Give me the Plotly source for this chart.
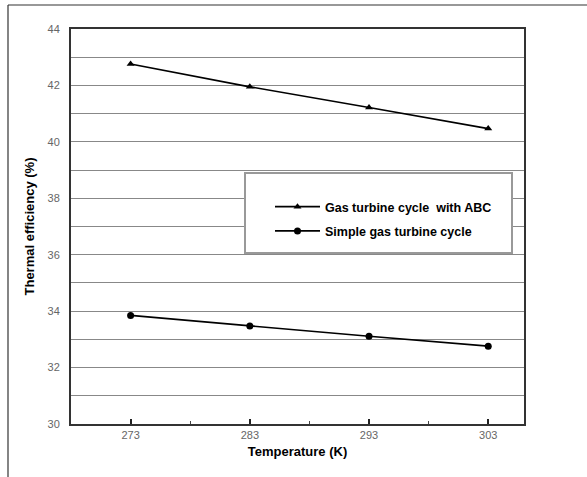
import plotly.graph_objects as go

temperature = [273, 283, 293, 303]
eff_abc = [42.76, 41.95, 41.22, 40.47]
eff_simple = [33.85, 33.47, 33.11, 32.76]
x_tick_vals = [273, 283, 293, 303]
y_tick_vals = [30, 32, 34, 36, 38, 40, 42, 44]

FONT = "Liberation Sans, Arial, sans-serif"

fig = go.Figure()
fig.add_trace(go.Scatter(
    x=temperature, y=eff_abc, mode="lines+markers",
    name="Gas turbine cycle&nbsp; with ABC", legendgroup="a",
    line=dict(color="black", width=1.6),
    marker=dict(symbol="triangle-up", size=7, color="black"),
))
fig.add_trace(go.Scatter(
    x=temperature, y=eff_simple, mode="lines+markers",
    name="Simple gas turbine cycle", legendgroup="b",
    line=dict(color="black", width=1.6),
    marker=dict(symbol="circle", size=7, color="black"),
))

W, H = 587, 477
L, R, T, B = 71, 524, 29, 424
def px_x(p):
    return (p - L) / (R - L)
def px_y(p):
    return (B - p) / (B - T)

shapes = [
    # outer frame (left and top edges)
    dict(type="line", xref="paper", yref="paper", x0=px_x(8), x1=px_x(8),
         y0=px_y(5), y1=px_y(480), line=dict(color="#333", width=1.2)),
    dict(type="line", xref="paper", yref="paper", x0=px_x(8), x1=px_x(600),
         y0=px_y(5), y1=px_y(5), line=dict(color="#333", width=1.2)),
    # legend box
    dict(type="rect", xref="paper", yref="paper", x0=px_x(245), x1=px_x(512),
         y0=px_y(253), y1=px_y(173), fillcolor="white",
         line=dict(color="#999", width=2), layer="above"),
]

fig.update_layout(
    width=W, height=H,
    margin=dict(l=L, r=W - R, t=T, b=H - B),
    paper_bgcolor="white", plot_bgcolor="white",
    font=dict(family=FONT, color="black"),
    showlegend=True,
    shapes=shapes,
    legend=dict(
        x=px_x(270), y=px_y(192), xanchor="left", yanchor="top",
        bgcolor="rgba(0,0,0,0)", borderwidth=0,
        font=dict(family=FONT, size=12.5, color="black", weight="bold"),
        itemwidth=45, tracegroupgap=5,
    ),
    xaxis=dict(
        range=[268, 306], tickvals=x_tick_vals,
        ticks="inside", ticklen=5, tickwidth=1.5, tickcolor="#222",
        minor=dict(tickvals=[278, 288, 298], ticks="inside", ticklen=3,
                   tickwidth=1, tickcolor="#444"),
        showgrid=False, zeroline=False,
        showline=True, linecolor="#333", linewidth=2, mirror=True,
        tickfont=dict(family=FONT, size=11, color="#666"),
        title=dict(text="Temperature (K)", standoff=7,
                   font=dict(family=FONT, size=13, color="black", weight="bold")),
    ),
    yaxis=dict(
        range=[30, 44], tickvals=y_tick_vals,
        ticks="", ticklabelstandoff=7,
        showgrid=True, gridcolor="#888", gridwidth=1.3,
        minor=dict(dtick=1, showgrid=True, gridcolor="#888", gridwidth=1.3),
        zeroline=False,
        showline=True, linecolor="#333", linewidth=2, mirror=True,
        tickfont=dict(family=FONT, size=11, color="#666"),
        title=dict(text="Thermal efficiency (%)", standoff=10,
                   font=dict(family=FONT, size=13, color="black", weight="bold")),
    ),
)

fig.write_html("out.html", config={"displayModeBar": False},
               post_script="document.body.style.margin='0';")
